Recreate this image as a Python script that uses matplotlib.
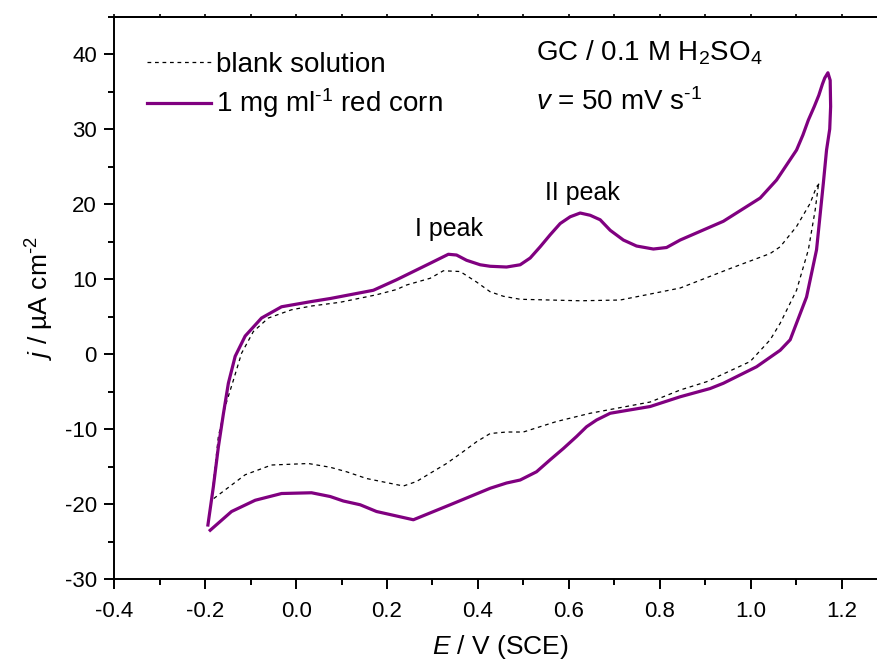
import matplotlib
matplotlib.use('Agg')
import matplotlib.pyplot as plt
from matplotlib.ticker import MultipleLocator

plt.rcParams['font.family'] = ['Liberation Sans', 'DejaVu Sans']
plt.rcParams['mathtext.fontset'] = 'custom'
plt.rcParams['mathtext.rm'] = 'Liberation Sans'
plt.rcParams['mathtext.it'] = 'Liberation Sans:italic'

# red corn, 1 mg/ml: anodic sweep then cathodic sweep
corn_E = [-0.194, -0.182, -0.171, -0.160, -0.149, -0.134, -0.112, -0.076, -0.032, 0.034, 0.075,
          0.170, 0.221, 0.258, 0.295, 0.335, 0.353, 0.375, 0.405, 0.427, 0.463, 0.493, 0.515,
          0.537, 0.559, 0.581, 0.603, 0.625, 0.647, 0.669, 0.691, 0.720, 0.749, 0.786, 0.815,
          0.845, 0.940, 1.021, 1.057, 1.101, 1.115, 1.127, 1.140, 1.150, 1.158, 1.163, 1.170,
          1.175, 1.176, 1.174, 1.167, 1.160, 1.145, 1.123, 1.087, 1.065, 1.013, 0.940, 0.911,
          0.845, 0.779, 0.720, 0.691, 0.661, 0.639, 0.617, 0.588, 0.559, 0.529, 0.493, 0.463,
          0.427, 0.383, 0.339, 0.258, 0.177, 0.141, 0.104, 0.075, 0.034, -0.032, -0.090, -0.142,
          -0.189]
corn_j = [-22.8, -17.7, -12.4, -8.0, -3.9, -0.3, 2.4, 4.8, 6.3, 7.0, 7.4,
          8.5, 9.9, 11.0, 12.1, 13.3, 13.2, 12.5, 11.9, 11.7, 11.6, 11.9, 12.8,
          14.3, 15.9, 17.4, 18.3, 18.8, 18.5, 17.9, 16.5, 15.2, 14.4, 14.0, 14.2,
          15.2, 17.7, 20.8, 23.2, 27.2, 29.2, 31.2, 33.0, 34.5, 36.0, 36.8, 37.5,
          36.5, 33.0, 30.0, 27.2, 22.8, 13.9, 7.6, 1.9, 0.5, -1.7, -3.9, -4.6,
          -5.7, -7.0, -7.6, -7.9, -8.8, -9.7, -11.0, -12.6, -14.1, -15.7, -16.8, -17.2,
          -17.9, -19.0, -20.1, -22.1, -21.0, -20.1, -19.6, -19.0, -18.5, -18.6, -19.5, -21.0,
          -23.5]

# blank 0.1 M H2SO4
blank_E = [-0.186, -0.171, -0.156, -0.138, -0.120, -0.094, -0.061, -0.010, 0.034, 0.097, 0.177,
           0.221, 0.243, 0.295, 0.324, 0.361, 0.397, 0.427, 0.456, 0.493, 0.625, 0.713, 0.771,
           0.845, 0.955, 1.043, 1.065, 1.101, 1.131, 1.145, 1.152, 1.149, 1.142, 1.127, 1.101,
           1.065, 1.043, 0.999, 0.903, 0.845, 0.779, 0.647, 0.573, 0.500, 0.463, 0.427, 0.397,
           0.368, 0.331, 0.295, 0.265, 0.236, 0.155, 0.111, 0.075, 0.027, -0.054, -0.112, -0.171,
           -0.186]
blank_j = [-19.5, -11.0, -7.0, -3.5, 0.1, 3.0, 4.8, 5.9, 6.4, 6.9, 7.9,
           8.6, 9.2, 10.1, 11.1, 11.0, 9.6, 8.3, 7.7, 7.3, 7.1, 7.2, 7.9,
           8.8, 11.4, 13.4, 14.3, 17.0, 20.1, 22.3, 22.8, 22.5, 19.2, 13.9, 8.5,
           4.1, 1.9, -1.0, -3.7, -4.8, -6.4, -7.9, -9.0, -10.4, -10.4, -10.6, -11.7,
           -13.0, -14.6, -15.9, -17.0, -17.6, -16.6, -15.7, -15.1, -14.6, -14.8, -16.1, -18.8,
           -19.5]

fig = plt.figure(figsize=(8.77, 6.64), dpi=100)
ax = fig.add_axes([0.1303, 0.128, 0.8811, 0.8471])

ax.plot(blank_E, blank_j, color='black', lw=0.9, linestyle=(0, (3, 3)), label='blank solution')
ax.plot(corn_E, corn_j, color='#800080', lw=2.3, label='1 mg ml$^{\u20101}$ red corn')

ax.set_xlim(-0.4, 1.3)
ax.set_ylim(-30, 45)
ax.xaxis.set_minor_locator(MultipleLocator(0.1))
ax.yaxis.set_minor_locator(MultipleLocator(5))
ax.set_yticks(range(-30, 41, 10))
ax.set_xticks([-0.4, -0.2, 0.0, 0.2, 0.4, 0.6, 0.8, 1.0, 1.2])
ax.set_xticklabels(['-0.4', '-0.2', '0.0', '0.2', '0.4', '0.6', '0.8', '1.0', '1.2'])
ax.set_yticklabels([str(v) for v in range(-30, 41, 10)])

for s in ax.spines.values():
    s.set_linewidth(1.4)
ax.spines['right'].set_visible(False)
ax.tick_params(which='major', direction='out', length=7.5, width=1.4, labelsize=16)
ax.tick_params(which='minor', direction='out', length=4, width=1.4)
ax.tick_params(axis='x', which='major', pad=8)
ax.tick_params(axis='y', which='major', pad=5)

top = ax.secondary_xaxis('top')
top.xaxis.set_major_locator(MultipleLocator(0.1))
top.tick_params(direction='out', length=2.5, width=1.2, labeltop=False)
top.spines['top'].set_linewidth(1.4)

ax.set_xlabel(r'$E$ / V (SCE)', fontsize=19, labelpad=8)
ax.set_ylabel('$j$ / µA cm$^{\u20102}$', fontsize=19, labelpad=6)

ax.legend(loc='upper left', bbox_to_anchor=(0.01, 0.981), frameon=False, fontsize=20,
          handlelength=2.3, handletextpad=0.2, labelspacing=0.3)

ax.text(0.546, 0.935, r'GC / 0.1 M H$_2$SO$_4$', transform=ax.transAxes, fontsize=20, va='center')
ax.text(0.546, 0.847, '$v$ = 50 mV s$^{\u20101}$', transform=ax.transAxes, fontsize=20, va='center')

ax.text(0.3375, 16.7, 'I peak', fontsize=18, ha='center', va='center')
ax.text(0.629, 21.5, 'II peak', fontsize=18, ha='center', va='center')

fig.savefig('out.png', dpi=100)
